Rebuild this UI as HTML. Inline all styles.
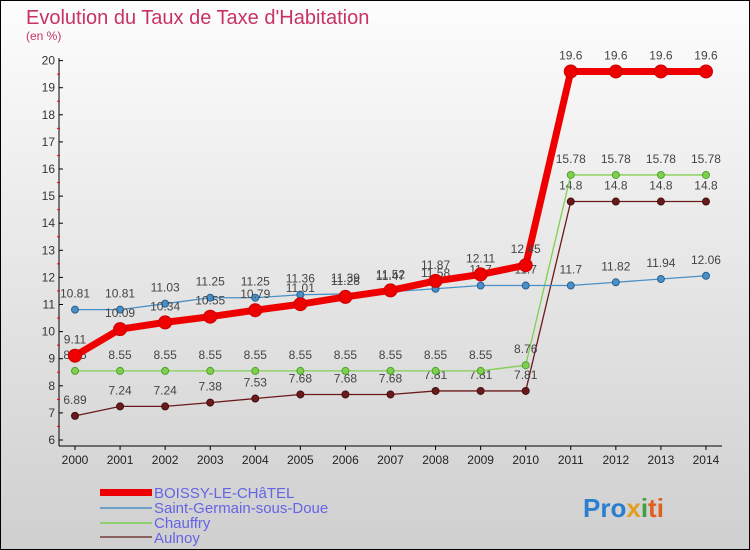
<!DOCTYPE html>
<html><head><meta charset="utf-8"><style>
body{margin:0;}
svg{display:block;font-family:"Liberation Sans",sans-serif;}
</style></head><body>
<svg id="c" width="750" height="550" viewBox="0 0 750 550">
<defs><linearGradient id="bg" x1="0" y1="0" x2="0" y2="1"><stop offset="0" stop-color="#fdfdfd"/><stop offset="1" stop-color="#cfcfcf"/></linearGradient></defs>
<rect x="0.5" y="0.5" width="749" height="549" fill="url(#bg)" stroke="#000"/>
<text x="26" y="24" font-size="20" fill="#c83264">Evolution du Taux de Taxe d'Habitation</text>
<text x="26" y="40" font-size="12" fill="#c83264">(en %)</text>
<g id="axes"></g><g id="series"></g>
<g>
<rect x="100" y="489" width="52" height="7" fill="#e00"/>
<text x="154" y="498" font-size="15" fill="#6464e6">BOISSY-LE-CHâTEL</text>
<line x1="100" x2="152" y1="508" y2="508" stroke="#6fa0c8" stroke-width="2"/>
<text x="154" y="513" font-size="15" fill="#6464e6">Saint-Germain-sous-Doue</text>
<line x1="100" x2="152" y1="523" y2="523" stroke="#90d070" stroke-width="2"/>
<text x="154" y="528" font-size="15" fill="#6464e6">Chauffry</text>
<line x1="100" x2="152" y1="537" y2="537" stroke="#8a6060" stroke-width="2"/>
<text x="154" y="543" font-size="15" fill="#6464e6">Aulnoy</text>
</g>
<text x="583" y="517" font-size="26" font-weight="bold"><tspan fill="#2a7fd0">Pro</tspan><tspan fill="#e0a020">x</tspan><tspan fill="#40a040">i</tspan><tspan fill="#e06020">ti</tspan></text>
</svg>
<script>
const years=[2000,2001,2002,2003,2004,2005,2006,2007,2008,2009,2010,2011,2012,2013,2014];
const boissy=[9.11,10.09,10.34,10.55,10.79,11.01,11.28,11.52,11.87,12.11,12.45,19.6,19.6,19.6,19.6];
const saintGermain=[10.81,10.81,11.03,11.25,11.25,11.36,11.39,11.47,11.58,11.7,11.7,11.7,11.82,11.94,12.06];
const chauffry=[8.55,8.55,8.55,8.55,8.55,8.55,8.55,8.55,8.55,8.55,8.76,15.78,15.78,15.78,15.78];
const aulnoy=[6.89,7.24,7.24,7.38,7.53,7.68,7.68,7.68,7.81,7.81,7.81,14.8,14.8,14.8,14.8];
const yTicks=[6,7,8,9,10,11,12,13,14,15,16,17,18,19,20];
const NS='http://www.w3.org/2000/svg';
const X=i=>75+i*45.07, Y=v=>440-(v-6)*27.1;
function mk(t,a,p){const e=document.createElementNS(NS,t);for(const k in a)e.setAttribute(k,a[k]);p.appendChild(e);return e;}
const ax=document.getElementById('axes');
let l=mk('line',{x1:59,x2:59,y1:58,y2:446,stroke:'#000'},ax);


l=mk('line',{x1:59,x2:722,y1:446,y2:446,stroke:'#000'},ax);


yTicks.forEach(v=>{
 mk('line',{x1:59,x2:63,y1:Y(v),y2:Y(v),stroke:'#000'},ax);
 if(v<20)mk('line',{x1:57,x2:60,y1:Y(v+0.5),y2:Y(v+0.5),stroke:'#e00'},ax);
 const t=mk('text',{x:55,y:Y(v)+4,'font-size':12,'text-anchor':'end',fill:'#333'},ax);t.textContent=v;
 
 
});
years.forEach((y,i)=>{
 mk('line',{x1:X(i),x2:X(i),y1:446,y2:450,stroke:'#000'},ax);
 const t=mk('text',{x:X(i),y:464,'font-size':12,'text-anchor':'middle',fill:'#222'},ax);t.textContent=y;
 
 
});
const sg=document.getElementById('series');
function series(name,vals,color,w,r,stroke){
 const g=mk('g',{},sg);
 
 
 mk('polyline',{points:vals.map((v,i)=>X(i)+','+Y(v)).join(' '),fill:'none',stroke:color,'stroke-width':w,'stroke-linejoin':'round'},g);
 vals.forEach((v,i)=>{
  const c=mk('circle',{cx:X(i),cy:Y(v),r:r,fill:color,stroke:stroke,'stroke-width':1},g);
  
  
  const t=mk('text',{x:X(i),y:Y(v)-12,'font-size':12,'text-anchor':'middle',fill:'#444'},g);t.textContent=v;
  
  
 });
}
series('aulnoy',aulnoy,'#6a1a1a',1.3,3.5,'#401010');
series('chauffry',chauffry,'#80d050',1.3,3.5,'#50a030');
series('saint-germain',saintGermain,'#4a90c8',1.3,3.5,'#2a6090');
series('boissy',boissy,'#ee0000',7,6.5,'#cc0000');
</script>
</body></html>
